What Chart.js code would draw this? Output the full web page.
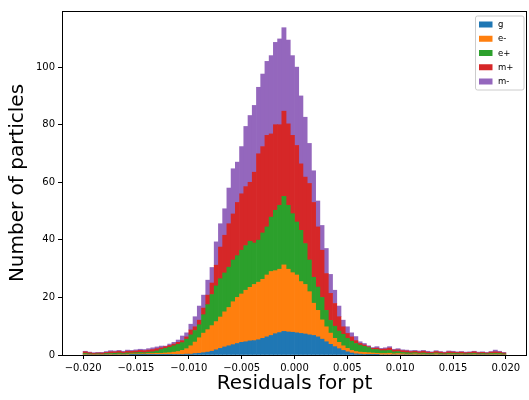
<!DOCTYPE html>
<html>
<head>
<meta charset="utf-8">
<script src="https://cdn.jsdelivr.net/npm/chart.js@4.4.1/dist/chart.umd.min.js"></script>
<style>
  html, body { margin: 0; padding: 0; background: #fff; }
  canvas { display: block; }
</style>
</head>
<body>
<canvas id="histo" width="529" height="400"></canvas>
<script>
// 100 bins from -0.020 to 0.020
const binStart = -0.02;
const binWidth = 0.0004;

const seriesNames = ['g', 'e-', 'e+', 'm+', 'm-'];
const seriesColors = ['#1f77b4', '#ff7f0e', '#2ca02c', '#d62728', '#9467bd'];

const gVals = [
  0, 0, 0, 0, 0, 0, 0, 0, 0, 0,
  0, .1, .1, .1, .1, .1, .1, .1, .1, .1,
  .1, .2, .2, .2, .3, .3, .5, .6, .8, 1.0,
  1.3, 1.8, 2.3, 2.8, 3.2, 3.6, 4.0, 4.4, 4.6, 4.9,
  5.0, 5.3, 5.8, 6.3, 6.8, 7.4, 7.8, 8.2, 8.0, 7.9,
  7.7, 7.5, 7.3, 7.0, 6.8, 6.3, 5.5, 4.6, 3.7, 2.9,
  2.2, 1.6, 1.1, .7, .4, .3, .2, .1, .1, .1,
  0, 0, 0, 0, 0, 0, 0, 0, 0, 0,
  0, 0, 0, 0, 0, 0, 0, 0, 0, 0,
  0, 0, 0, 0, 0, 0, 0, 0, 0, 0
];
const eMinusVals = [
  .3, .2, .1, .2, .2, .2, .3, .2, .3, .2,
  .3, .3, .3, .3, .3, .4, .4, .5, .5, .6,
  .7, .8, 1.0, 1.4, 1.9, 2.9, 4.0, 5.4, 6.8, 7.8,
  8.9, 9.8, 10.9, 12.2, 13.3, 14.9, 16.0, 16.8, 17.9, 18.6,
  19.5, 20.0, 20.5, 21.5, 22.2, 21.9, 22.0, 23.1, 21.8, 20.7,
  20.1, 18.0, 17.2, 15.0, 11.2, 9.2, 6.7, 5.2, 3.9, 2.9,
  2.2, 1.6, 1.2, .9, .8, .7, .7, .7, .6, .5,
  .5, .5, .6, .4, .5, .4, .3, .3, .4, .3,
  .3, .2, .2, .4, .2, .2, .3, .3, .2, .3,
  .2, .2, .3, .2, .2, .2, .3, .3, .3, .2
];
const ePlusVals = [
  .3, .2, .2, .2, .1, .3, .3, .4, .4, .3,
  .4, .3, .4, .5, .4, .5, .6, .8, 1.3, 1.6,
  1.9, 2.2, 2.5, 2.7, 3.3, 3.8, 4.0, 4.5, 6.4, 8.7,
  10.8, 12.4, 13.3, 13.5, 14.0, 14.5, 14.5, 15.2, 15.5, 16.0,
  14.4, 14.6, 16.1, 16.7, 18.9, 21.0, 22.2, 23.8, 22.2, 20.5,
  18.4, 17.8, 14.2, 11.0, 9.0, 8.1, 7.8, 5.7, 4.4, 4.2,
  3.9, 4.0, 3.5, 3.2, 2.8, 2.4, 2.1, 1.8, 1.2, 1.3,
  1.0, 1.0, 1.0, .7, .7, .5, .5, .4, .4, .3,
  .4, .3, .3, .3, .3, .2, .3, .3, .3, .2,
  .2, .3, .3, .2, .3, .2, .3, .3, .3, .2
];
const mPlusVals = [
  .5, .4, .3, .3, .4, .4, .5, .5, .6, .5,
  .6, .6, .6, .7, .7, .7, .8, .8, .6, .6,
  .6, .6, .7, .7, .8, 1.7, 1.3, 1.6, 2.3, 3.3,
  4.0, 7.2, 11.0, 13.1, 15.1, 16.0, 18.5, 19.6, 20.5, 20.5,
  24.6, 30.0, 30.0, 31.8, 28.9, 29.7, 28.0, 29.6, 28.3, 27.2,
  26.6, 23.1, 23.1, 26.6, 26.0, 20.9, 16.4, 12.8, 9.4, 7.9,
  5.0, 2.6, 1.7, 1.5, 1.0, .6, .5, .3, .4, .5,
  .5, .6, .8, .6, .6, .6, .6, .5, .5, .5,
  .6, .5, .4, .5, .5, .4, .5, .4, .4, .5,
  .4, .4, .5, .4, .4, .3, .4, .5, .4, .3
];
const mMinusVals = [
  .2, .2, .2, .2, .2, .3, .4, .3, .3, .3,
  .4, .3, .4, .4, .4, .5, .6, .6, .6, .2,
  .5, .6, .8, 1.6, 1.4, 2.0, 3.5, 4.9, 4.5, 5.2,
  5.4, 8.1, 8.1, 9.2, 12.4, 15.7, 14.0, 16.4, 20.9, 23.2,
  23.2, 23.1, 25.2, 25.7, 27.2, 28.6, 29.8, 29.0, 29.1, 27.7,
  27.2, 23.6, 20.8, 13.9, 11.0, 9.0, 8.6, 8.7, 6.6, 4.6,
  3.7, 2.3, 2.3, 1.4, 1.4, .6, .5, .3, .3, .5,
  .3, .4, .5, .3, .4, .3, .3, .3, .3, .3,
  .3, .3, .2, .3, .2, .2, .3, .3, .2, .2,
  .2, .2, .2, .2, .2, .2, .2, .6, .3, .2
];
const seriesVals = [gVals, eMinusVals, ePlusVals, mPlusVals, mMinusVals];

const xTicks = [-0.02, -0.015, -0.01, -0.005, 0, 0.005, 0.01, 0.015, 0.02];
const yTicks = [0, 20, 40, 60, 80, 100];

const binCenters = gVals.map((v, i) => binStart + binWidth * (i + 0.5));

const fontFam = "'DejaVu Sans', sans-serif";

// box round the axes (matplotlib spines)
const spines = {
  id: 'spines',
  afterDatasetsDraw(chart) {
    const c = chart.ctx, a = chart.chartArea;
    c.save();
    c.strokeStyle = '#000';
    c.lineWidth = 1;
    c.strokeRect(Math.round(a.left) + 0.5, Math.round(a.top) + 0.5,
      Math.round(a.right - a.left) - 1, Math.round(a.bottom - a.top));
    c.restore();
  }
};

// legend in upper right corner, drawn like matplotlib's
const cornerLegend = {
  id: 'cornerLegend',
  afterDraw(chart) {
    const c = chart.ctx, a = chart.chartArea;
    const x0 = a.right - 52, y0 = a.top + 4.5, w = 48.5, h = 74;
    c.save();
    c.fillStyle = 'rgba(255,255,255,0.8)';
    c.strokeStyle = '#cccccc';
    c.lineWidth = 1;
    c.beginPath();
    c.roundRect(x0 + 0.5, y0 + 0.5, w, h, 2);
    c.fill();
    c.stroke();
    c.font = '8.5px ' + fontFam;
    c.textBaseline = 'middle';
    c.textAlign = 'left';
    chart.data.datasets.forEach((ds, i) => {
      const yc = y0 + 9 + i * 14.25;
      c.fillStyle = ds.backgroundColor;
      c.fillRect(x0 + 4, yc - 3, 13.5, 6);
      c.fillStyle = '#000';
      c.fillText(ds.label, x0 + 23, yc + 0.5);
    });
    c.restore();
  }
};

const fmtTick = v => {
  if (Math.abs(v) < 1e-9) return '0.000';
  return (v < 0 ? '\u2212' : '') + Math.abs(v).toFixed(3);
};

new Chart(document.getElementById('histo'), {
  type: 'bar',
  data: {
    datasets: seriesVals.map((vals, i) => ({
      label: seriesNames[i],
      data: vals.map((y, j) => ({ x: binCenters[j], y: y })),
      backgroundColor: seriesColors[i],
      borderWidth: 0,
      barPercentage: 1,
      categoryPercentage: 1
    }))
  },
  options: {
    responsive: false,
    animation: false,
    devicePixelRatio: 1,
    layout: { padding: { left: 0, top: 11, right: 2, bottom: 0 } },
    plugins: {
      legend: { display: false },
      tooltip: { enabled: false }
    },
    scales: {
      x: {
        type: 'linear',
        stacked: true,
        offset: false,
        min: -0.022,
        max: 0.022,
        afterBuildTicks: s => { s.ticks = xTicks.map(v => ({ value: v })); },
        afterFit: s => { s.height = 45; },
        grid: { offset: false, drawOnChartArea: false, drawTicks: true, tickLength: 4, color: '#000' },
        border: { display: false },
        ticks: {
          autoSkip: false, maxRotation: 0, padding: 3,
          color: '#000', font: { family: fontFam, size: 10 },
          callback: v => fmtTick(v)
        },
        title: {
          display: true, text: 'Residuals for pt', color: '#000',
          font: { family: fontFam, size: 20 }, padding: { top: 0, bottom: 4 }
        }
      },
      y: {
        stacked: true,
        min: 0,
        max: 119.5,
        afterBuildTicks: s => { s.ticks = yTicks.map(v => ({ value: v })); },
        afterFit: s => { s.width = 62; },
        grid: { drawOnChartArea: false, drawTicks: true, tickLength: 4, color: '#000' },
        border: { display: false },
        ticks: { padding: 3, color: '#000', font: { family: fontFam, size: 10 } },
        title: {
          display: true, text: 'Number of particles', color: '#000',
          font: { family: fontFam, size: 20 }, padding: { top: 6, bottom: 0 }
        }
      }
    }
  },
  plugins: [spines, cornerLegend]
});
</script>
</body>
</html>
